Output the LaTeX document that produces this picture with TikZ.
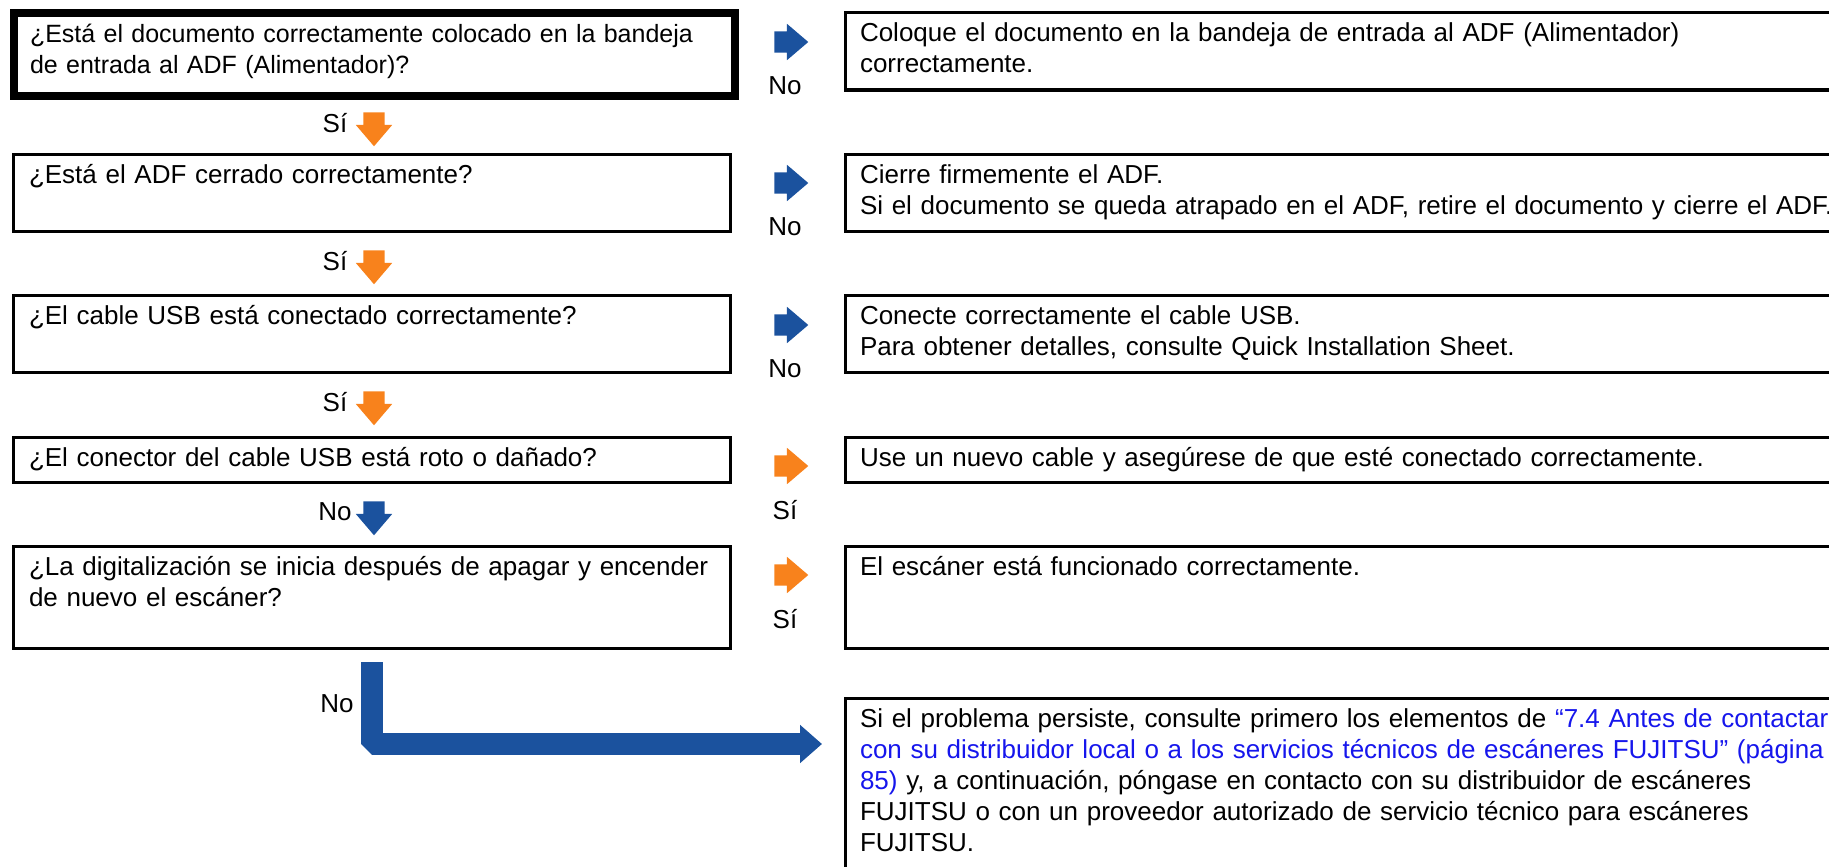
\documentclass[tikz,border=0pt]{standalone}
\usepackage{fontspec}
\setmainfont{Liberation Sans}
\usepackage{tikz}
\usetikzlibrary{shapes.arrows, arrows.meta}
\definecolor{flowblue}{RGB}{27,82,158}
\definecolor{floworange}{RGB}{248,130,28}
\definecolor{linkblue}{RGB}{22,22,236}
\tikzset{
	x=1pt, y=-1pt, % one unit per pixel, y runs downwards
	every node/.style={font=\fontsize{26}{31}\selectfont},
	qbox/.style={draw, line width=3pt, anchor=north west, align=left, inner xsep=16pt, inner ysep=0pt, text height=29pt, text width=685pt}, % question on the left
	rbox/.style={qbox, inner xsep=15pt, text width=1000pt}, % answer on the right, runs off the page
	sidearrow/.style={single arrow, draw=none, inner xsep=0pt, inner ysep=10.5pt, minimum height=34pt, single arrow head extend=7.5pt, single arrow tip angle=81},
	downarrow/.style={sidearrow, rotate=-90},
	bigarrow/.style={draw=flowblue, line width=22pt, line join=bevel, -{Triangle[length=22pt, width=37pt]}},
}
\begin{document}
\begin{tikzpicture}
	\useasboundingbox (0,0) rectangle (1829,867);
	% questions
	\node (q1) at (10,9) [qbox, line width=8pt, inner xsep=16pt, text width=689pt, text height=30pt, text depth=53pt, font=\fontsize{25}{31}\selectfont] {¿Está el documento correctamente colocado en la bandeja\\ de entrada al ADF (Alimentador)?};
	\node (q2) at (11.5,152.5) [qbox, text depth=48pt] {¿Está el ADF cerrado correctamente?};
	\node (q3) at (11.5,293.5) [qbox, text depth=48pt] {¿El cable USB está conectado correctamente?};
	\node (q4) at (11.5,435.5) [qbox, text depth=16pt] {¿El conector del cable USB está roto o dañado?};
	\node (q5) at (11.5,544.5) [qbox, text depth=73pt] {¿La digitalización se inicia después de apagar y encender\\ de nuevo el escáner?};
	% answers
	\node (r1) at (843.5,11.5) [rbox, text depth=48pt] {Coloque el documento en la bandeja de entrada al ADF (Alimentador)\\ correctamente.};
	\node (r2) at (843.5,152.5) [rbox, text depth=48pt] {Cierre firmemente el ADF.\\ Si el documento se queda atrapado en el ADF, retire el documento y cierre el ADF.};
	\node (r3) at (843.5,293.5) [rbox, text depth=48pt] {Conecte correctamente el cable USB.\\ Para obtener detalles, consulte Quick Installation Sheet.};
	\node (r4) at (843.5,435.5) [rbox, text depth=16pt] {Use un nuevo cable y asegúrese de que esté conectado correctamente.};
	\node (r5) at (843.5,544.5) [rbox, text depth=73pt] {El escáner está funcionado correctamente.};
	\node (r6) at (843.5,697) [rbox, text depth=250pt] {Si el problema persiste, consulte primero los elementos de \color{linkblue}“7.4 Antes de contactar\\ con su distribuidor local o a los servicios técnicos de escáneres FUJITSU” (página\\ 85)\color{black}{} y, a continuación, póngase en contacto con su distribuidor de escáneres\\ FUJITSU o con un proveedor autorizado de servicio técnico para escáneres\\ FUJITSU.};
	% arrows to the answers
	\foreach \n/\y/\c/\t in {1/42/flowblue/No, 2/183/flowblue/No, 3/325/flowblue/No, 4/466/floworange/Sí, 5/575/floworange/Sí} {
		\node (h\n) at (785,\y) [sidearrow, fill=\c] {};
		\node (lh\n) at (785,\y+44) {\t};
	}
	% arrows down to the next question
	\foreach \n/\y/\c/\t in {1/123/floworange/Sí, 2/261/floworange/Sí, 3/402/floworange/Sí, 4/512/flowblue/No} {
		\node (d\n) at (374,\y) [downarrow, fill=\c] {};
		\node (ld\n) at (335,\y) {\t};
	}
	% last step
	\coordinate (Ltop) at (372,662);
	\coordinate (Ltip) at (822,744);
	\draw[bigarrow] (Ltop) |- (Ltip);
	\node (lL) at (337,704) {No};
\end{tikzpicture}
\end{document}
